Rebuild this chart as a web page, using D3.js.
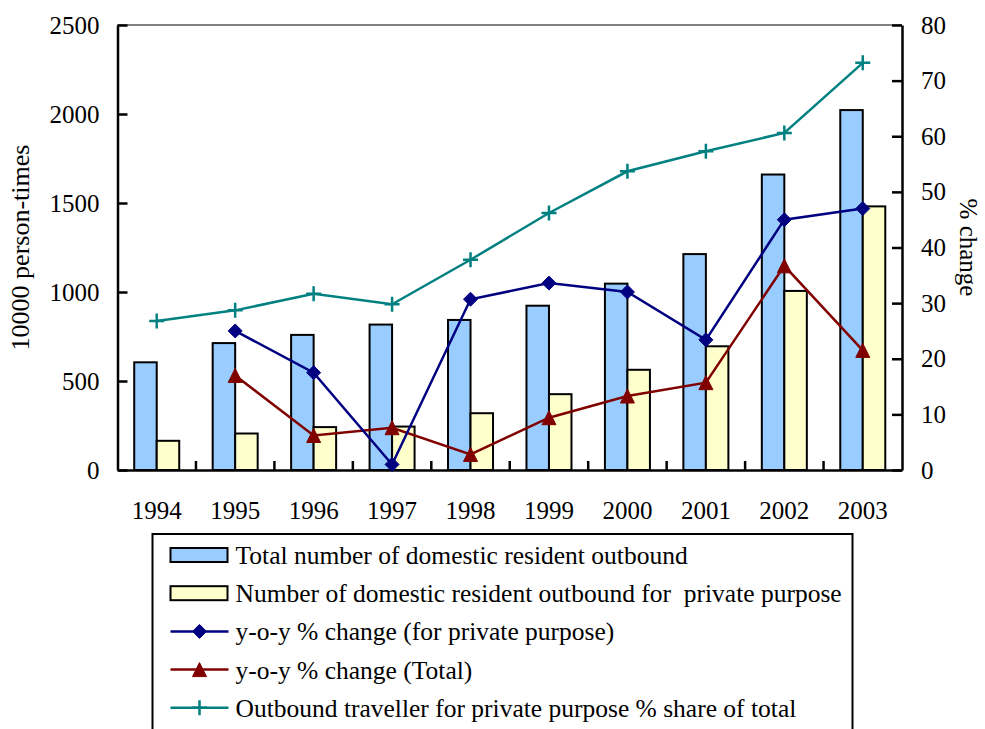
<!DOCTYPE html>
<html>
<head>
<meta charset="utf-8">
<script src="https://cdn.jsdelivr.net/npm/d3@7"></script>
<style>
  html, body { margin: 0; padding: 0; background: #ffffff; }
  svg { display: block; }
  text { font-family: "Liberation Serif", "Times New Roman", serif; fill: #000; white-space: pre; }
</style>
</head>
<body>
<svg id="chart" width="985" height="729"></svg>
<script>
// Outbound travel by domestic residents, 1994-2003
const years = ["1994", "1995", "1996", "1997", "1998", "1999", "2000", "2001", "2002", "2003"];
// 10000 person-times
const totalOutbound   = [605, 713, 759, 817, 843, 923, 1047, 1213, 1660, 2022];
const privateOutbound = [164, 205, 241, 244, 319, 426, 563, 695, 1006, 1481];
// percent
const privateYoY   = [null, 25.0, 17.5, 1.0, 30.7, 33.6, 32.0, 23.4, 45.0, 47.0];
const totalYoY     = [null, 17.0, 6.2, 7.6, 2.8, 9.4, 13.3, 15.7, 36.7, 21.5];
const privateShare = [26.8, 28.7, 31.7, 29.8, 37.8, 46.2, 53.7, 57.3, 60.6, 73.2];

const leftTicks  = [0, 500, 1000, 1500, 2000, 2500];
const rightTicks = [0, 10, 20, 30, 40, 50, 60, 70, 80];

const legendLabels = [
  "Total number of domestic resident outbound",
  "Number of domestic resident outbound for  private purpose",
  "y-o-y % change (for private purpose)",
  "y-o-y % change (Total)",
  "Outbound traveller for private purpose % share of total"
];

const C = {
  totalBar: "#99CCFF",
  privateBar: "#FFFFCC",
  navy: "#000080",
  maroon: "#800000",
  teal: "#008080"
};

const FONT = 25;
const TEXT_FONT = 25.5;

const svg = d3.select("#chart");
const plot = { left: 117.5, right: 902, top: 25, bottom: 470 };

const x = d3.scaleBand().domain(years).range([plot.left, plot.right]).paddingInner(0).paddingOuter(0);
const xSub = d3.scaleBand().domain(["total", "private"]).range([0, x.bandwidth()])
  .paddingInner(0).paddingOuter(0.743);
const yL = d3.scaleLinear().domain([0, 2500]).range([plot.bottom, plot.top]);
const yR = d3.scaleLinear().domain([0, 80]).range([plot.bottom, plot.top]);
const cx = d => x(d) + x.bandwidth() / 2;

// plot-area frame (grey top edge)
svg.append("line")
  .attr("x1", plot.left).attr("x2", plot.right)
  .attr("y1", plot.top).attr("y2", plot.top)
  .attr("stroke", "#808080").attr("stroke-width", 2);

// bars
const barGroups = svg.append("g").selectAll("g")
  .data(years.map((yr, i) => ({ yr, total: totalOutbound[i], priv: privateOutbound[i] })))
  .join("g")
  .attr("transform", d => `translate(${x(d.yr)},0)`);

barGroups.append("rect")
  .attr("x", xSub("total")).attr("width", xSub.bandwidth())
  .attr("y", d => yL(d.total)).attr("height", d => yL(0) - yL(d.total))
  .attr("fill", C.totalBar).attr("stroke", "#000").attr("stroke-width", 2);

barGroups.append("rect")
  .attr("x", xSub("private")).attr("width", xSub.bandwidth())
  .attr("y", d => yL(d.priv)).attr("height", d => yL(0) - yL(d.priv))
  .attr("fill", C.privateBar).attr("stroke", "#000").attr("stroke-width", 2);

// axes
const axisLeft = d3.axisLeft(yL).tickValues(leftTicks).tickFormat(d3.format("d"))
  .tickSizeInner(-10).tickSizeOuter(0).tickPadding(18);
const gL = svg.append("g").attr("transform", `translate(${plot.left},0)`).call(axisLeft);

const axisRight = d3.axisRight(yR).tickValues(rightTicks).tickFormat(d3.format("d"))
  .tickSizeInner(-10).tickSizeOuter(0).tickPadding(19);
const gR = svg.append("g").attr("transform", `translate(${plot.right},0)`).call(axisRight);

const axisBottom = d3.axisBottom(x).tickSize(0).tickPadding(31);
const gB = svg.append("g").attr("transform", `translate(0,${plot.bottom})`).call(axisBottom);

[gL, gR, gB].forEach(g => {
  g.select(".domain").attr("stroke", "#000").attr("stroke-width", 2.5);
  g.selectAll(".tick line").attr("stroke", "#000").attr("stroke-width", 2.5);
  g.selectAll(".tick text").attr("font-size", FONT)
    .attr("font-family", "'Liberation Serif', 'Times New Roman', serif").attr("fill", "#000");
});

// category separator ticks on the bottom axis
gB.selectAll(".sep").data(years.slice(1)).join("line")
  .attr("class", "sep")
  .attr("x1", d => x(d)).attr("x2", d => x(d))
  .attr("y1", 0).attr("y2", -9)
  .attr("stroke", "#000").attr("stroke-width", 2.5);

// axis titles
svg.append("text")
  .attr("transform", `translate(29,${(plot.top + plot.bottom) / 2}) rotate(-90)`)
  .attr("text-anchor", "middle").attr("font-size", TEXT_FONT + 0.5)
  .text("10000 person-times");

svg.append("text")
  .attr("transform", `translate(960,${(plot.top + plot.bottom) / 2}) rotate(90)`)
  .attr("text-anchor", "middle").attr("font-size", FONT)
  .text("% change");

// marker shapes
const markerPath = {
  diamond: s => `M0,${-s}L${s},0L0,${s}L${-s},0Z`,
  triangle: s => `M0,${-s}L${s},${s}L${-s},${s}Z`,
  plus: s => `M${-s},0H${s}M0,${-s}V${s}`
};

function drawLine(values, color, marker, size) {
  const pts = years.map((yr, i) => ({ yr, v: values[i] })).filter(d => d.v != null);
  const line = d3.line().x(d => cx(d.yr)).y(d => yR(d.v));
  svg.append("path").datum(pts)
    .attr("d", line).attr("fill", "none")
    .attr("stroke", color).attr("stroke-width", 2.5);
  svg.append("g").selectAll("path").data(pts).join("path")
    .attr("transform", d => `translate(${cx(d.yr)},${yR(d.v)})`)
    .attr("d", markerPath[marker](size))
    .attr("fill", marker === "plus" ? "none" : color)
    .attr("stroke", color)
    .attr("stroke-width", marker === "plus" ? 2.5 : 1);
}

drawLine(privateShare, C.teal, "plus", 7.5);
drawLine(totalYoY, C.maroon, "triangle", 7);
drawLine(privateYoY, C.navy, "diamond", 7);

// legend
const lg = svg.append("g").attr("transform", "translate(152.5,534)");
lg.append("rect")
  .attr("x", 0).attr("y", 0).attr("width", 700).attr("height", 210)
  .attr("fill", "#fff").attr("stroke", "#000").attr("stroke-width", 2);

const rowY = i => 21 + i * 38.2;
const items = [
  { type: "bar", fill: C.totalBar },
  { type: "bar", fill: C.privateBar },
  { type: "line", color: C.navy, marker: "diamond" },
  { type: "line", color: C.maroon, marker: "triangle" },
  { type: "line", color: C.teal, marker: "plus" }
];

items.forEach((it, i) => {
  const g = lg.append("g").attr("transform", `translate(0,${rowY(i)})`);
  if (it.type === "bar") {
    g.append("rect").attr("x", 18).attr("y", -7).attr("width", 57).attr("height", 14)
      .attr("fill", it.fill).attr("stroke", "#000").attr("stroke-width", 2);
  } else {
    g.append("line").attr("x1", 18).attr("x2", 76).attr("y1", 0).attr("y2", 0)
      .attr("stroke", it.color).attr("stroke-width", 2.5);
    g.append("path").attr("transform", "translate(47,0)")
      .attr("d", markerPath[it.marker](it.marker === "plus" ? 7.5 : 7))
      .attr("fill", it.marker === "plus" ? "none" : it.color)
      .attr("stroke", it.color).attr("stroke-width", it.marker === "plus" ? 2.5 : 1);
  }
  g.append("text").attr("x", 83).attr("y", 0).attr("dy", "0.35em")
    .attr("font-size", TEXT_FONT).text(legendLabels[i]);
});
</script>
</body>
</html>
